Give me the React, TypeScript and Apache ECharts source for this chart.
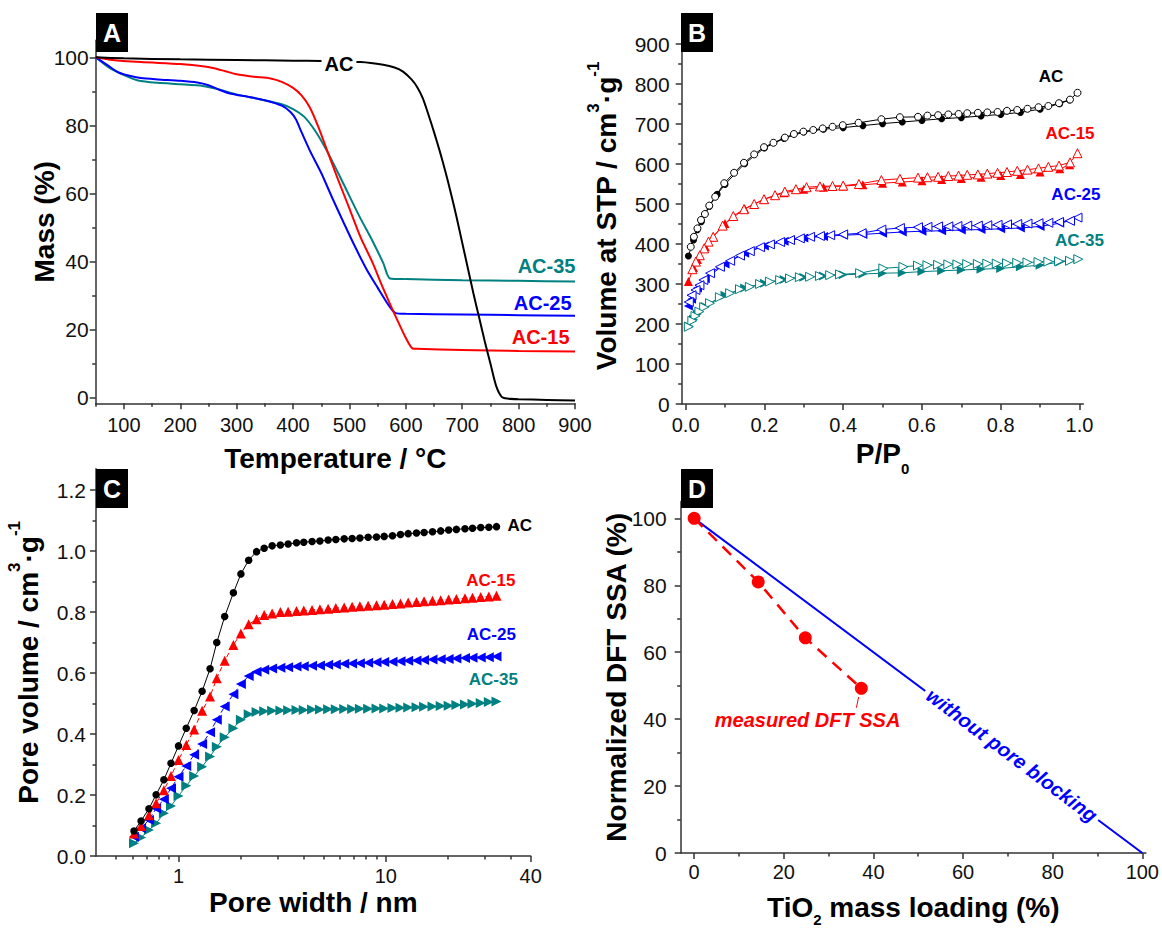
import React, { useEffect, useRef } from "react";
import * as echarts from "echarts";

const FONT = '"Liberation Sans", Arial, Helvetica, sans-serif';
const AXIS_COLOR = "#333";
const LABEL_COLOR = "#111";
const C_BLACK = "#000000";
const C_RED = "#ff0000";
const C_BLUE = "#0000ff";
const C_TEAL = "#008080";

// ---------------- Panel A: TGA ----------------
const tgaAC_T = [50, 100, 200, 300, 400, 450, 520, 560, 580, 595, 610, 620, 630, 640, 650, 660, 670, 680, 690, 700, 710, 720, 730, 740, 750, 760, 770, 780, 800, 850, 900];
const tgaAC_M = [100, 99.7, 99.4, 99.2, 99.0, 98.9, 98.6, 97.8, 97.0, 95.8, 93.5, 91.3, 88.0, 83.2, 78.0, 72.5, 66.5, 60.0, 53.0, 45.5, 38.0, 30.5, 23.5, 16.5, 10.0, 3.5, 0.2, -0.3, -0.5, -0.7, -0.9];
const tga15_T = [50, 80, 130, 200, 240, 260, 280, 300, 330, 360, 380, 400, 415, 430, 445, 460, 480, 500, 520, 540, 560, 580, 600, 612, 620, 700, 800, 900];
const tga15_M = [100, 99.2, 98.6, 98.0, 97.4, 96.8, 95.9, 95.0, 94.3, 93.8, 92.8, 91.0, 88.8, 85.2, 79.5, 72.8, 64.0, 55.5, 47.0, 40.0, 32.0, 24.5, 17.5, 14.4, 14.3, 14.0, 13.7, 13.5];
const tga25_T = [50, 70, 90, 110, 130, 160, 200, 230, 250, 270, 290, 320, 350, 380, 395, 405, 415, 430, 450, 470, 490, 510, 530, 550, 570, 582, 600, 700, 800, 900];
const tga25_M = [100, 97.8, 95.6, 94.6, 93.9, 93.5, 93.1, 92.6, 91.8, 90.4, 89.3, 88.4, 87.4, 85.8, 84.0, 81.8, 78.0, 72.5, 66.0, 58.5, 51.3, 44.3, 37.8, 32.3, 27.0, 24.8, 24.6, 24.4, 24.2, 24.0];
const tga35_T = [50, 75, 100, 125, 160, 200, 240, 270, 300, 340, 380, 400, 420, 440, 460, 480, 500, 520, 540, 560, 572, 600, 700, 800, 900];
const tga35_M = [100, 96.8, 94.8, 93.2, 92.5, 92.1, 91.6, 90.5, 89.1, 87.7, 86.2, 84.8, 82.5, 78.2, 72.5, 66.0, 59.2, 52.5, 46.3, 39.5, 35.0, 34.8, 34.5, 34.3, 34.1];
const tgaXMajor = [100, 200, 300, 400, 500, 600, 700, 800, 900];
const tgaXMinor = [50, 150, 250, 350, 450, 550, 650, 750, 850];
const tgaYMajor = [0, 20, 40, 60, 80, 100];
const tgaYMinor = [10, 30, 50, 70, 90];

// ---------------- Panel B: isotherms ----------------
const isoAC_adsP = [0.007, 0.02, 0.03, 0.04, 0.06, 0.08, 0.1, 0.15, 0.2, 0.25, 0.3, 0.35, 0.4, 0.45, 0.5, 0.55, 0.6, 0.65, 0.7, 0.75, 0.8, 0.85, 0.9, 0.95, 0.975];
const isoAC_adsV = [370, 410, 436, 456, 494, 524, 549, 601, 640, 664, 680, 687, 691, 696, 701, 705, 709, 713, 716, 720, 724, 729, 737, 751, 760];
const isoAC_desP = [0.995, 0.976, 0.948, 0.921, 0.896, 0.868, 0.842, 0.816, 0.792, 0.766, 0.742, 0.715, 0.693, 0.667, 0.641, 0.614, 0.59, 0.544, 0.497, 0.439, 0.399, 0.373, 0.348, 0.324, 0.299, 0.275, 0.252, 0.223, 0.199, 0.174, 0.148, 0.123, 0.098, 0.075, 0.06, 0.049, 0.039, 0.03, 0.021, 0.013];
const isoAC_desV = [778, 761, 752, 745, 742, 738, 735, 733, 730, 729, 728, 727, 725, 724, 722, 721, 718, 717, 712, 703, 697, 693, 689, 685, 681, 675, 666, 653, 642, 624, 603, 578, 552, 518, 496, 475, 460, 439, 418, 393];
const iso15_adsP = [0.007, 0.02, 0.03, 0.05, 0.07, 0.1, 0.15, 0.2, 0.25, 0.3, 0.35, 0.4, 0.45, 0.5, 0.55, 0.6, 0.65, 0.7, 0.75, 0.8, 0.85, 0.9, 0.95, 0.975];
const iso15_adsV = [306, 341, 361, 393, 418, 451, 488, 512, 528, 537, 542, 545, 548, 552, 555, 558, 561, 564, 567, 571, 574, 580, 588, 598];
const iso15_desP = [0.995, 0.976, 0.948, 0.921, 0.896, 0.868, 0.842, 0.816, 0.792, 0.766, 0.742, 0.715, 0.693, 0.667, 0.641, 0.614, 0.59, 0.544, 0.497, 0.44, 0.4, 0.373, 0.341, 0.307, 0.28, 0.252, 0.227, 0.199, 0.174, 0.148, 0.121, 0.094, 0.07, 0.058, 0.047, 0.036, 0.026, 0.017];
const iso15_desV = [627, 604, 596, 593, 589, 586, 583, 580, 578, 576, 574, 573, 571, 570, 568, 567, 566, 563, 560, 550, 546, 545, 544, 542, 537, 531, 522, 512, 500, 487, 470, 446, 418, 406, 389, 372, 356, 337];
const iso25_adsP = [0.007, 0.015, 0.03, 0.05, 0.1, 0.15, 0.2, 0.25, 0.3, 0.35, 0.4, 0.45, 0.5, 0.55, 0.6, 0.65, 0.7, 0.75, 0.8, 0.85, 0.9, 0.95, 0.975];
const iso25_adsV = [245, 262, 290, 313, 350, 377, 395, 407, 415, 419, 422, 424, 427, 430, 432, 433, 435, 436, 438, 440, 444, 452, 458];
const iso25_desP = [0.995, 0.976, 0.948, 0.921, 0.896, 0.868, 0.842, 0.816, 0.792, 0.766, 0.742, 0.715, 0.69, 0.667, 0.641, 0.614, 0.59, 0.544, 0.497, 0.447, 0.4, 0.367, 0.341, 0.316, 0.29, 0.265, 0.24, 0.214, 0.189, 0.163, 0.138, 0.113, 0.087, 0.062, 0.045, 0.035, 0.025, 0.015, 0.008];
const iso25_desV = [466, 458, 455, 453, 452, 451, 450, 449, 448, 447, 446, 446, 445, 444, 444, 443, 442, 440, 436, 427, 424, 422, 420, 418, 414, 410, 405, 399, 392, 382, 371, 358, 343, 327, 310, 297, 285, 272, 255];
const iso35_adsP = [0.008, 0.02, 0.03, 0.05, 0.1, 0.15, 0.2, 0.25, 0.3, 0.35, 0.4, 0.45, 0.5, 0.55, 0.6, 0.65, 0.7, 0.75, 0.8, 0.85, 0.9, 0.95, 0.975];
const iso35_adsV = [195, 212, 225, 244, 272, 290, 302, 311, 317, 320, 323, 325, 327, 328, 331, 333, 335, 337, 339, 343, 347, 355, 358];
const iso35_desP = [0.997, 0.976, 0.948, 0.921, 0.896, 0.868, 0.842, 0.816, 0.79, 0.766, 0.742, 0.715, 0.69, 0.667, 0.641, 0.614, 0.59, 0.553, 0.502, 0.443, 0.392, 0.367, 0.341, 0.316, 0.29, 0.265, 0.24, 0.214, 0.189, 0.163, 0.138, 0.113, 0.087, 0.062, 0.047, 0.035, 0.025, 0.017, 0.008];
const iso35_desV = [362, 358, 357, 356, 355, 354, 353, 352, 351, 351, 350, 350, 349, 349, 348, 347, 346, 343, 339, 327, 324, 322, 320, 318, 317, 314, 310, 306, 300, 293, 287, 277, 267, 252, 242, 231, 220, 208, 193];
const isoXMajor = [0, 0.2, 0.4, 0.6, 0.8, 1.0];
const isoXMinor = [0.1, 0.3, 0.5, 0.7, 0.9];
const isoYMajor = [0, 100, 200, 300, 400, 500, 600, 700, 800, 900];
const isoYMinor = [50, 150, 250, 350, 450, 550, 650, 750, 850];

// ---------------- Panel C: cumulative pore volume ----------------
const poreW = [0.61, 0.66, 0.72, 0.78, 0.85, 0.92, 1.0, 1.09, 1.19, 1.30, 1.42, 1.53, 1.67, 1.84, 2.0, 2.18, 2.38, 2.59, 2.83, 3.1, 3.38, 3.71, 4.02, 4.41, 4.81, 5.27, 5.74, 6.3, 6.88, 7.5, 8.22, 9.02, 9.82, 10.77, 11.77, 12.82, 14.06, 15.3, 16.8, 18.4, 20.1, 21.9, 24.1, 26.2, 28.7, 31.4, 34.2];
const poreAC = [0.082, 0.115, 0.155, 0.201, 0.25, 0.304, 0.361, 0.419, 0.477, 0.54, 0.614, 0.70, 0.785, 0.863, 0.925, 0.970, 0.998, 1.009, 1.017, 1.020, 1.023, 1.027, 1.029, 1.031, 1.033, 1.036, 1.038, 1.040, 1.041, 1.043, 1.045, 1.046, 1.048, 1.050, 1.054, 1.057, 1.059, 1.061, 1.063, 1.066, 1.069, 1.071, 1.073, 1.075, 1.077, 1.078, 1.080];
const pore15 = [0.074, 0.098, 0.134, 0.173, 0.216, 0.262, 0.315, 0.364, 0.415, 0.476, 0.523, 0.583, 0.64, 0.692, 0.73, 0.76, 0.776, 0.79, 0.795, 0.80, 0.801, 0.803, 0.805, 0.807, 0.809, 0.811, 0.813, 0.815, 0.817, 0.819, 0.821, 0.822, 0.824, 0.826, 0.828, 0.831, 0.833, 0.835, 0.837, 0.839, 0.841, 0.843, 0.845, 0.847, 0.849, 0.851, 0.853];
const pore25 = [0.063, 0.091, 0.118, 0.156, 0.186, 0.222, 0.26, 0.295, 0.332, 0.367, 0.406, 0.447, 0.49, 0.53, 0.564, 0.59, 0.604, 0.611, 0.615, 0.617, 0.619, 0.621, 0.622, 0.624, 0.625, 0.627, 0.628, 0.630, 0.631, 0.632, 0.634, 0.635, 0.636, 0.637, 0.639, 0.640, 0.641, 0.643, 0.644, 0.645, 0.646, 0.648, 0.649, 0.650, 0.651, 0.652, 0.654];
const pore35 = [0.042, 0.061, 0.085, 0.107, 0.14, 0.164, 0.197, 0.23, 0.262, 0.293, 0.326, 0.358, 0.389, 0.419, 0.447, 0.465, 0.472, 0.475, 0.476, 0.477, 0.478, 0.479, 0.479, 0.480, 0.480, 0.481, 0.481, 0.482, 0.482, 0.483, 0.483, 0.484, 0.484, 0.485, 0.486, 0.487, 0.488, 0.489, 0.490, 0.492, 0.493, 0.495, 0.497, 0.499, 0.502, 0.505, 0.507];
const poreXMajor = [1, 10, 50];
const poreXMinor = [0.5, 0.6, 0.7, 0.8, 0.9, 2, 3, 4, 5, 6, 7, 8, 9, 20, 30, 40];
const poreYMajor = [0, 0.2, 0.4, 0.6, 0.8, 1.0, 1.2];
const poreYMinor = [0.1, 0.3, 0.5, 0.7, 0.9, 1.1];

// ---------------- Panel D: normalized SSA ----------------
const ssaLoading = [0, 14.3, 24.8, 37.3];
const ssaMeasured = [100, 81.0, 64.3, 49.2];
const idealLoading = [0, 100];
const idealSSA = [100, 0];
const ssaXMajor = [0, 20, 40, 60, 80, 100];
const ssaXMinor = [10, 30, 50, 70, 90];
const ssaYMajor = [0, 20, 40, 60, 80, 100];
const ssaYMinor = [10, 30, 50, 70, 90];

const zip = (a: number[], b: number[]) => a.map((v, i) => [v, b[i]]);

const titleStyle = { fontFamily: FONT, fontWeight: "bold", fontSize: 28, color: "#000" };

function axisPair(o: any) {
  const common = {
    type: o.type || "value",
    gridIndex: o.grid,
    min: o.min,
    max: o.max,
    position: o.kind === "x" ? "bottom" : "left",
    splitLine: { show: false },
  };
  const main = {
    ...common,
    axisLine: { show: true, onZero: false, lineStyle: { color: AXIS_COLOR, width: 1.5 } },
    axisTick: { show: true, inside: false, length: 6, customValues: o.majors, lineStyle: { color: AXIS_COLOR, width: 1.5 } },
    axisLabel: {
      show: true,
      customValues: o.labels || o.majors,
      formatter: o.fmt,
      margin: o.margin,
      fontSize: o.kind === "x" ? 20 : 21,
      color: LABEL_COLOR,
      fontFamily: FONT,
      hideOverlap: false,
    },
    name: o.name,
    nameLocation: "middle",
    nameGap: o.nameGap,
    nameMoveOverlap: false,
    nameRotate: o.kind === "y" ? 90 : 0,
    nameTextStyle: o.nameStyle || titleStyle,
  };
  const minor = {
    ...common,
    axisLine: { show: false, onZero: false },
    axisTick: { show: true, inside: false, length: 3.5, customValues: o.minors, lineStyle: { color: AXIS_COLOR, width: 1.5 } },
    axisLabel: { show: false },
  };
  return [main, minor];
}

function richTitle(extra: any) {
  return {
    ...titleStyle,
    rich: {
      a: { fontFamily: FONT, fontWeight: "bold", fontSize: 28, color: "#000", lineHeight: 44 },
      sup: { fontFamily: FONT, fontWeight: "bold", fontSize: 17, color: "#000", lineHeight: 17, verticalAlign: "top" },
      sub: { fontFamily: FONT, fontWeight: "bold", fontSize: 15, color: "#000", lineHeight: 16, verticalAlign: "bottom" },
      ...extra,
    },
  };
}

function textMark(x: number, y: number, text: string, color: string, size: number, extra: any = {}) {
  return {
    coord: [x, y],
    symbol: "circle",
    symbolSize: 0,
    itemStyle: { color: "transparent" },
    label: {
      show: true,
      position: "inside",
      formatter: text,
      color,
      fontFamily: FONT,
      fontWeight: "bold",
      fontSize: size,
      ...extra,
    },
  };
}

function markPts(items: any[]) {
  return { silent: true, animation: false, data: items };
}

function letterBox(x: number, y: number, letter: string) {
  return [
    { type: "rect", shape: { x, y, width: 32, height: 39 }, style: { fill: "#000" }, z: 100 },
    {
      type: "text",
      x: x + 16,
      y: y + 20,
      z: 101,
      style: {
        text: letter,
        fill: "#fff",
        fontFamily: FONT,
        fontWeight: "bold",
        fontSize: 25,
        align: "center",
        verticalAlign: "middle",
        textAlign: "center",
        textVerticalAlign: "middle",
      },
    },
  ];
}

function isoSeries(name: string, P: number[], V: number[], color: string, symbol: string, rot: number, open: boolean, size: number, xi: number, yi: number, mp?: any) {
  return {
    type: "line",
    name,
    xAxisIndex: xi,
    yAxisIndex: yi,
    data: zip(P, V),
    symbol,
    symbolRotate: rot,
    symbolSize: size,
    showSymbol: true,
    lineStyle: { color, width: 1 },
    itemStyle: open ? { color: "#fff", borderColor: color, borderWidth: 1 } : { color, borderColor: color, borderWidth: 0 },
    z: open ? 3 : 2,
    markPoint: mp,
  };
}

function buildOption() {
  const [axA, axAm] = axisPair({ kind: "x", grid: 0, min: 50, max: 900, majors: tgaXMajor, minors: tgaXMinor, margin: 12, name: "Temperature / °C", nameGap: 41 });
  const [ayA, ayAm] = axisPair({ kind: "y", grid: 0, min: -1.7, max: 105, majors: tgaYMajor, minors: tgaYMinor, margin: 7, name: "Mass (%)", nameGap: 37 });
  const [axB, axBm] = axisPair({
    kind: "x", grid: 1, min: -0.01, max: 1.01, majors: isoXMajor, minors: isoXMinor, margin: 11,
    fmt: (v: number) => v.toFixed(1),
    name: "{a|P/P}{sub|0}", nameGap: 26,
    nameStyle: richTitle({ a: { fontFamily: FONT, fontWeight: "bold", fontSize: 28, color: "#000", lineHeight: 46 } }),
  });
  const [ayB, ayBm] = axisPair({
    kind: "y", grid: 1, min: 0, max: 940, majors: isoYMajor, minors: isoYMinor, margin: 12,
    name: "{a|Volume at STP / cm}{sup|3}{a|·g}{sup|-1}", nameGap: 53,
    nameStyle: richTitle({}),
  });
  const [axC, axCm] = axisPair({
    kind: "x", grid: 2, type: "log", min: 0.4, max: 50, majors: poreXMajor, minors: poreXMinor, margin: 10,
    fmt: (v: number) => (Math.round(v) >= 50 ? "40" : String(Math.round(v))),
    name: "Pore width / nm", nameGap: 32,
  });
  const [ayC, ayCm] = axisPair({
    kind: "y", grid: 2, min: 0, max: 1.27, majors: poreYMajor, minors: poreYMinor, margin: 10,
    fmt: (v: number) => v.toFixed(1),
    name: "{a|Pore volume / cm}{sup|3}{a|·g}{sup|-1}", nameGap: 46,
    nameStyle: richTitle({}),
  });
  const [axD, axDm] = axisPair({
    kind: "x", grid: 3, min: -3, max: 100.8, majors: ssaXMajor, minors: ssaXMinor, margin: 9,
    name: "{a|TiO}{sub|2}{a| mass loading (%)}", nameGap: 34,
    nameStyle: richTitle({ a: { fontFamily: FONT, fontWeight: "bold", fontSize: 28, color: "#000", lineHeight: 40 } }),
  });
  const [ayD, ayDm] = axisPair({ kind: "y", grid: 3, min: 0, max: 105, majors: ssaYMajor, minors: ssaYMinor, margin: 14, name: "Normalized DFT SSA (%)", nameGap: 50 });

  const tgaLine = (name: string, T: number[], M: number[], color: string, mp?: any) => ({
    type: "line",
    name,
    xAxisIndex: 0,
    yAxisIndex: 0,
    data: zip(T, M),
    showSymbol: false,
    smooth: 0.25,
    lineStyle: { color, width: 2 },
    itemStyle: { color },
    markPoint: mp,
  });

  const poreSeries = (name: string, V: number[], color: string, symbol: string, rot: number, size: number, dashed: boolean, mp?: any) => ({
    type: "line",
    name,
    xAxisIndex: 4,
    yAxisIndex: 4,
    data: zip(poreW, V),
    symbol,
    symbolRotate: rot,
    symbolSize: size,
    showSymbol: true,
    lineStyle: { color, width: 1, type: dashed ? [5, 3] : "solid" },
    itemStyle: { color, borderWidth: 0 },
    markPoint: mp,
  });

  const series: any[] = [
    // Panel A
    tgaLine("AC-35", tga35_T, tga35_M, C_TEAL, markPts([textMark(849.5, 38.7, "AC-35", C_TEAL, 20)])),
    tgaLine("AC-25", tga25_T, tga25_M, C_BLUE, markPts([textMark(842.6, 27.8, "AC-25", C_BLUE, 20)])),
    tgaLine("AC-15", tga15_T, tga15_M, C_RED, markPts([textMark(839, 17.8, "AC-15", C_RED, 20)])),
    tgaLine("AC", tgaAC_T, tgaAC_M, C_BLACK, markPts([textMark(481.4, 98.0, "AC", C_BLACK, 20, { backgroundColor: "#fff", padding: [1, 3] })])),

    // Panel B
    isoSeries("AC-35 ads", iso35_adsP, iso35_adsV, C_TEAL, "triangle", -90, false, 9, 2, 2),
    isoSeries("AC-35 des", iso35_desP, iso35_desV, C_TEAL, "triangle", -90, true, 9, 2, 2, markPts([textMark(1.0, 409, "AC-35", C_TEAL, 17)])),
    isoSeries("AC-25 ads", iso25_adsP, iso25_adsV, C_BLUE, "triangle", 90, false, 9, 2, 2),
    isoSeries("AC-25 des", iso25_desP, iso25_desV, C_BLUE, "triangle", 90, true, 9, 2, 2, markPts([textMark(0.991, 524, "AC-25", C_BLUE, 17)])),
    isoSeries("AC-15 ads", iso15_adsP, iso15_adsV, C_RED, "triangle", 0, false, 9, 2, 2),
    isoSeries("AC-15 des", iso15_desP, iso15_desV, C_RED, "triangle", 0, true, 9, 2, 2, markPts([textMark(0.976, 677.5, "AC-15", C_RED, 17)])),
    isoSeries("AC ads", isoAC_adsP, isoAC_adsV, C_BLACK, "circle", 0, false, 7, 2, 2),
    isoSeries("AC des", isoAC_desP, isoAC_desV, C_BLACK, "circle", 0, true, 7, 2, 2, markPts([textMark(0.928, 820, "AC", C_BLACK, 17)])),

    // Panel C
    poreSeries("AC-35", pore35, C_TEAL, "triangle", -90, 10, false, markPts([textMark(33.0, 0.579, "AC-35", C_TEAL, 17)])),
    poreSeries("AC-25", pore25, C_BLUE, "triangle", 90, 10, true, markPts([textMark(32.3, 0.725, "AC-25", C_BLUE, 17)])),
    poreSeries("AC-15", pore15, C_RED, "triangle", 0, 10, true, markPts([textMark(32.1, 0.905, "AC-15", C_RED, 17)])),
    poreSeries("AC", poreAC, C_BLACK, "circle", 0, 7.5, false, markPts([textMark(44.3, 1.085, "AC", C_BLACK, 17)])),

    // Panel D
    {
      type: "line",
      name: "without pore blocking",
      xAxisIndex: 6,
      yAxisIndex: 6,
      data: zip(idealLoading, idealSSA),
      showSymbol: false,
      lineStyle: { color: C_BLUE, width: 2 },
      itemStyle: { color: C_BLUE },
      markPoint: markPts([
        textMark(70.9, 29.2, "without pore blocking", C_BLUE, 20, {
          fontStyle: "italic",
          rotate: -36.87,
          backgroundColor: "#fff",
          padding: [0, 4],
        }),
      ]),
    },
    {
      type: "line",
      name: "measured DFT SSA",
      xAxisIndex: 6,
      yAxisIndex: 6,
      data: zip(ssaLoading, ssaMeasured),
      symbol: "circle",
      symbolSize: 13,
      showSymbol: true,
      lineStyle: { color: C_RED, width: 2.5, type: [12, 8] },
      itemStyle: { color: C_RED },
      z: 5,
      markPoint: markPts([textMark(25.3, 39.7, "measured DFT SSA", C_RED, 20, { fontStyle: "italic" })]),
      markLine: {
        silent: true,
        animation: false,
        symbol: "none",
        label: { show: false },
        lineStyle: { color: C_RED, width: 1, type: "solid" },
        data: [[{ coord: [36.7, 46.6] }, { coord: [36.2, 43.4] }]],
      },
    },
  ];

  return {
    animation: false,
    backgroundColor: "#fff",
    textStyle: { fontFamily: FONT },
    grid: [
      { left: 95.7, top: 40.3, width: 479.3, height: 363 },
      { left: 681.7, top: 28, width: 401.7, height: 376 },
      { left: 96, top: 468.7, width: 434.7, height: 387.3 },
      { left: 680.7, top: 501.6, width: 467, height: 354.4 },
    ],
    xAxis: [axA, axAm, axB, axBm, axC, axCm, axD, axDm],
    yAxis: [ayA, ayAm, ayB, ayBm, ayC, ayCm, ayD, ayDm],
    series,
    graphic: [
      ...letterBox(96, 13, "A"),
      ...letterBox(681, 13, "B"),
      ...letterBox(96, 469, "C"),
      ...letterBox(681, 469, "D"),
    ],
  };
}

export default function App() {
  const ref = useRef<HTMLDivElement>(null);
  useEffect(() => {
    if (!ref.current) return;
    const chart = echarts.init(ref.current, null, { renderer: "svg" });
    chart.setOption(buildOption() as any);
    return () => chart.dispose();
  }, []);
  return (
    <div
      ref={ref}
      style={{ position: "fixed", left: 0, top: 0, width: 1162, height: 928, background: "#fff" }}
    />
  );
}
